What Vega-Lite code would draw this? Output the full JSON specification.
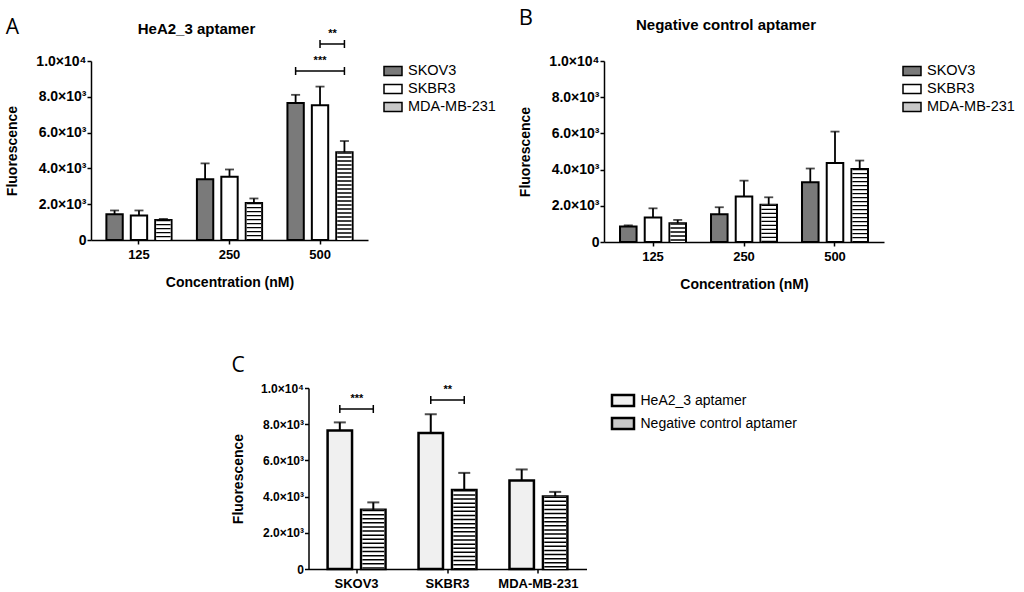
{
  "$schema": "https://vega.github.io/schema/vega-lite/v6.json",
  "background": "white",
  "padding": {"top": 7, "left": 5, "right": 5, "bottom": 5},
  "config": {
    "view": {"stroke": null},
    "font": "Liberation Sans",
    "title": {"offset": 0},
    "axis": {"domainColor": "black", "domainWidth": 1.5, "tickColor": "black", "tickWidth": 1.5, "tickSize": 4, "labelColor": "black", "labelFont": "Liberation Sans", "labelFontWeight": "bold", "titleFont": "Liberation Sans", "titleFontWeight": "bold", "titleColor": "black", "grid": false, "labelOverlap": false},
    "legend": {"labelFont": "Liberation Sans", "labelFontSize": 14.5, "labelColor": "black", "labelLimit": 400, "symbolStrokeColor": "black", "symbolStrokeWidth": 1.5, "symbolType": "M-1,-0.5H1V0.5H-1Z", "symbolSize": 324, "rowPadding": 0, "labelOffset": 5}
  },
  "datasets": {
    "A": [
      {"conc": "125", "line": "SKOV3", "mean": 1440, "err": 1650},
      {"conc": "125", "line": "SKBR3", "mean": 1370, "err": 1650},
      {"conc": "125", "line": "MDA-MB-231", "mean": 1120, "err": 1180},
      {"conc": "250", "line": "SKOV3", "mean": 3400, "err": 4280},
      {"conc": "250", "line": "SKBR3", "mean": 3530, "err": 3940},
      {"conc": "250", "line": "MDA-MB-231", "mean": 2070, "err": 2320},
      {"conc": "500", "line": "SKOV3", "mean": 7660, "err": 8110},
      {"conc": "500", "line": "SKBR3", "mean": 7530, "err": 8570},
      {"conc": "500", "line": "MDA-MB-231", "mean": 4900, "err": 5530}
    ],
    "B": [
      {"conc": "125", "line": "SKOV3", "mean": 860, "err": 920},
      {"conc": "125", "line": "SKBR3", "mean": 1350, "err": 1860},
      {"conc": "125", "line": "MDA-MB-231", "mean": 1030, "err": 1220},
      {"conc": "250", "line": "SKOV3", "mean": 1530, "err": 1920},
      {"conc": "250", "line": "SKBR3", "mean": 2520, "err": 3390},
      {"conc": "250", "line": "MDA-MB-231", "mean": 2060, "err": 2470},
      {"conc": "500", "line": "SKOV3", "mean": 3300, "err": 4060},
      {"conc": "500", "line": "SKBR3", "mean": 4370, "err": 6100},
      {"conc": "500", "line": "MDA-MB-231", "mean": 4040, "err": 4500}
    ],
    "C": [
      {"cell": "SKOV3", "apt": "HeA2_3 aptamer", "mean": 7650, "err": 8100},
      {"cell": "SKOV3", "apt": "Negative control aptamer", "mean": 3270, "err": 3680},
      {"cell": "SKBR3", "apt": "HeA2_3 aptamer", "mean": 7520, "err": 8550},
      {"cell": "SKBR3", "apt": "Negative control aptamer", "mean": 4360, "err": 5310},
      {"cell": "MDA-MB-231", "apt": "HeA2_3 aptamer", "mean": 4890, "err": 5500},
      {"cell": "MDA-MB-231", "apt": "Negative control aptamer", "mean": 4010, "err": 4260}
    ],
    "bracketsA": [
      {"id": "b1", "conc": "500", "line": "SKOV3", "level": 9440},
      {"id": "b1", "conc": "500", "line": "MDA-MB-231", "level": 9440},
      {"id": "b2", "conc": "500", "line": "SKBR3", "level": 10950},
      {"id": "b2", "conc": "500", "line": "MDA-MB-231", "level": 10950}
    ],
    "starsA": [
      {"conc": "500", "line": "SKBR3", "level": 9440, "label": "***"},
      {"conc": "500", "line": "MDA-MB-231", "level": 10950, "label": "**"}
    ],
    "bracketsC": [
      {"id": "c1", "cell": "SKOV3", "apt": "HeA2_3 aptamer", "level": 8840},
      {"id": "c1", "cell": "SKOV3", "apt": "Negative control aptamer", "level": 8840},
      {"id": "c2", "cell": "SKBR3", "apt": "HeA2_3 aptamer", "level": 9340},
      {"id": "c2", "cell": "SKBR3", "apt": "Negative control aptamer", "level": 9340}
    ],
    "starsC": [
      {"cell": "SKOV3", "apt": "HeA2_3 aptamer", "level": 8840, "label": "***"},
      {"cell": "SKBR3", "apt": "HeA2_3 aptamer", "level": 9340, "label": "**"}
    ]
  },
  "resolve": {"scale": {"x": "independent", "y": "independent", "xOffset": "independent", "color": "independent"}, "legend": {"color": "independent"}, "axis": {"x": "independent", "y": "independent"}},
  "vconcat": [
    {
      "resolve": {"scale": {"x": "independent", "y": "independent", "xOffset": "independent", "color": "independent"}, "legend": {"color": "independent"}, "axis": {"x": "independent", "y": "independent"}},
      "hconcat": [
        {
          "title": {"text": "A", "anchor": "start", "fontSize": 21, "font": "Open Sans", "fontWeight": "normal", "color": "black", "dy": 20},
          "vconcat": [
            {
              "width": 277,
              "height": 179,
              "title": {"text": "HeA2_3 aptamer", "fontSize": 15, "fontWeight": "bold", "font": "Liberation Sans", "color": "black", "frame": "group", "anchor": "middle", "dx": -33, "offset": -9},
              "layer": [
                {
                  "data": {"name": "A"},
                  "mark": {"type": "bar", "stroke": "black", "strokeWidth": 2},
                  "encoding": {
                    "x": {"field": "conc", "type": "nominal", "scale": {"paddingInner": 0.28, "paddingOuter": 0.17}, "axis": {"title": "Concentration (nM)", "labelAngle": 0, "labelFontSize": 13, "titleFontSize": 14, "labelPadding": 4, "titlePadding": 14}},
                    "xOffset": {"field": "line", "type": "nominal", "scale": {"domain": ["SKOV3", "SKBR3", "MDA-MB-231"], "paddingInner": 0.33, "paddingOuter": 0}},
                    "y": {"field": "mean", "type": "quantitative", "scale": {"domain": [0, 10000], "nice": false}, "axis": {"title": "Fluorescence", "values": [0, 2000, 4000, 6000, 8000, 10000], "tickCount": 10, "labelOverlap": false, "labelFontSize": 14, "titleFontSize": 14, "titlePadding": 16, "labelPadding": 1, "labelExpr": "datum.value == 0 ? '0' : datum.value == 10000 ? '1.0×10⁴' : format(datum.value/1000, '.1f') + '×10³'"}},
                    "color": {"field": "line", "type": "nominal", "scale": {"domain": ["SKOV3", "SKBR3", "MDA-MB-231"], "range": ["#7a7a7a", "#ffffff", "#c8c8c8"]}, "legend": {"title": null, "offset": 15, "encode": {"symbols": {"update": {"stroke": {"value": "black"}, "strokeWidth": {"value": 1.5}, "fill": [{"test": "datum.value === 'MDA-MB-231'", "value": {"gradient": "linear", "x1": 0, "y1": 0, "x2": 0, "y2": 1, "stops": [{"offset": 0, "color": "white"}, {"offset": 0.18, "color": "white"}, {"offset": 0.18, "color": "black"}, {"offset": 0.3, "color": "black"}, {"offset": 0.3, "color": "white"}, {"offset": 0.44, "color": "white"}, {"offset": 0.44, "color": "black"}, {"offset": 0.56, "color": "black"}, {"offset": 0.56, "color": "white"}, {"offset": 0.7, "color": "white"}, {"offset": 0.7, "color": "black"}, {"offset": 0.82, "color": "black"}, {"offset": 0.82, "color": "white"}, {"offset": 1, "color": "white"}]}}, {"test": "datum.value === 'SKOV3'", "value": "#7a7a7a"}, {"value": "white"}]}}}}}
                  }
                },
                {
                  "data": {"name": "A"},
                  "transform": [{"filter": "datum.line == 'MDA-MB-231'"}],
                  "mark": {"type": "rule", "color": "white", "strokeWidth": 14.4, "strokeCap": "butt"},
                  "encoding": {
                    "x": {"field": "conc", "type": "nominal"},
                    "xOffset": {"field": "line", "type": "nominal"},
                    "y": {"field": "mean", "type": "quantitative"},
                    "y2": {"datum": 0}
                  }
                },
                {
                  "data": {"name": "A"},
                  "transform": [{"filter": "datum.line == 'MDA-MB-231'"}],
                  "mark": {"type": "rule", "color": "black", "strokeWidth": 14.4, "strokeCap": "butt", "strokeDash": [1.4, 2.6]},
                  "encoding": {
                    "x": {"field": "conc", "type": "nominal"},
                    "xOffset": {"field": "line", "type": "nominal"},
                    "y": {"field": "mean", "type": "quantitative"},
                    "y2": {"datum": 0}
                  }
                },
                {
                  "data": {"name": "A"},
                  "mark": {"type": "rule", "color": "black", "strokeWidth": 1.8},
                  "encoding": {
                    "x": {"field": "conc", "type": "nominal"},
                    "xOffset": {"field": "line", "type": "nominal"},
                    "y": {"field": "mean", "type": "quantitative"},
                    "y2": {"field": "err"}
                  }
                },
                {
                  "data": {"name": "A"},
                  "mark": {"type": "tick", "color": "black", "thickness": 1.8, "size": 9, "orient": "horizontal"},
                  "encoding": {
                    "x": {"field": "conc", "type": "nominal"},
                    "xOffset": {"field": "line", "type": "nominal"},
                    "y": {"field": "err", "type": "quantitative"}
                  }
                },
                {
                  "data": {"name": "bracketsA"},
                  "mark": {"type": "line", "color": "black", "strokeWidth": 1.5},
                  "encoding": {
                    "x": {"field": "conc", "type": "nominal"},
                    "xOffset": {"field": "line", "type": "nominal"},
                    "y": {"field": "level", "type": "quantitative"},
                    "detail": {"field": "id"}
                  }
                },
                {
                  "data": {"name": "bracketsA"},
                  "mark": {"type": "point", "shape": "M0,-1L0,1", "size": 64, "filled": false, "stroke": "black", "strokeWidth": 1.5, "opacity": 1},
                  "encoding": {
                    "x": {"field": "conc", "type": "nominal"},
                    "xOffset": {"field": "line", "type": "nominal"},
                    "y": {"field": "level", "type": "quantitative"}
                  }
                },
                {
                  "data": {"name": "starsA"},
                  "transform": [{"filter": "datum.label == '***'"}],
                  "mark": {"type": "text", "fontSize": 11, "fontWeight": "bold", "color": "black", "dy": -5, "baseline": "bottom"},
                  "encoding": {
                    "x": {"field": "conc", "type": "nominal"},
                    "xOffset": {"field": "line", "type": "nominal"},
                    "y": {"field": "level", "type": "quantitative"},
                    "text": {"field": "label"}
                  }
                },
                {
                  "data": {"name": "starsA"},
                  "transform": [{"filter": "datum.label == '**'"}],
                  "mark": {"type": "text", "fontSize": 11, "fontWeight": "bold", "color": "black", "dy": -5, "dx": -12, "baseline": "bottom"},
                  "encoding": {
                    "x": {"field": "conc", "type": "nominal"},
                    "xOffset": {"field": "line", "type": "nominal"},
                    "y": {"field": "level", "type": "quantitative"},
                    "text": {"field": "label"}
                  }
                }
              ]
            }
          ]
        },
        {
          "title": {"text": "B", "anchor": "start", "fontSize": 22, "font": "Open Sans", "fontWeight": "normal", "color": "black", "dy": 16},
          "vconcat": [
            {
              "width": 280,
              "height": 181,
              "title": {"text": "Negative control aptamer", "fontSize": 15, "fontWeight": "bold", "font": "Liberation Sans", "color": "black", "frame": "group", "anchor": "middle", "dx": -18, "offset": 21},
              "layer": [
                {
                  "data": {"name": "B"},
                  "mark": {"type": "bar", "stroke": "black", "strokeWidth": 2},
                  "encoding": {
                    "x": {"field": "conc", "type": "nominal", "scale": {"paddingInner": 0.275, "paddingOuter": 0.176}, "axis": {"title": "Concentration (nM)", "labelAngle": 0, "labelFontSize": 13, "titleFontSize": 14, "labelPadding": 4, "titlePadding": 14}},
                    "xOffset": {"field": "line", "type": "nominal", "scale": {"domain": ["SKOV3", "SKBR3", "MDA-MB-231"], "paddingInner": 0.33, "paddingOuter": 0}},
                    "y": {"field": "mean", "type": "quantitative", "scale": {"domain": [0, 10000], "nice": false}, "axis": {"title": "Fluorescence", "values": [0, 2000, 4000, 6000, 8000, 10000], "tickCount": 10, "labelOverlap": false, "labelFontSize": 14, "titleFontSize": 14, "titlePadding": 16, "labelPadding": 1, "labelExpr": "datum.value == 0 ? '0' : datum.value == 10000 ? '1.0×10⁴' : format(datum.value/1000, '.1f') + '×10³'"}},
                    "color": {"field": "line", "type": "nominal", "scale": {"domain": ["SKOV3", "SKBR3", "MDA-MB-231"], "range": ["#7a7a7a", "#ffffff", "#c8c8c8"]}, "legend": {"title": null, "offset": 18, "encode": {"symbols": {"update": {"stroke": {"value": "black"}, "strokeWidth": {"value": 1.5}, "fill": [{"test": "datum.value === 'MDA-MB-231'", "value": {"gradient": "linear", "x1": 0, "y1": 0, "x2": 0, "y2": 1, "stops": [{"offset": 0, "color": "white"}, {"offset": 0.18, "color": "white"}, {"offset": 0.18, "color": "black"}, {"offset": 0.3, "color": "black"}, {"offset": 0.3, "color": "white"}, {"offset": 0.44, "color": "white"}, {"offset": 0.44, "color": "black"}, {"offset": 0.56, "color": "black"}, {"offset": 0.56, "color": "white"}, {"offset": 0.7, "color": "white"}, {"offset": 0.7, "color": "black"}, {"offset": 0.82, "color": "black"}, {"offset": 0.82, "color": "white"}, {"offset": 1, "color": "white"}]}}, {"test": "datum.value === 'SKOV3'", "value": "#7a7a7a"}, {"value": "white"}]}}}}}
                  }
                },
                {
                  "data": {"name": "B"},
                  "transform": [{"filter": "datum.line == 'MDA-MB-231'"}],
                  "mark": {"type": "rule", "color": "white", "strokeWidth": 14.6, "strokeCap": "butt"},
                  "encoding": {
                    "x": {"field": "conc", "type": "nominal"},
                    "xOffset": {"field": "line", "type": "nominal"},
                    "y": {"field": "mean", "type": "quantitative"},
                    "y2": {"datum": 0}
                  }
                },
                {
                  "data": {"name": "B"},
                  "transform": [{"filter": "datum.line == 'MDA-MB-231'"}],
                  "mark": {"type": "rule", "color": "black", "strokeWidth": 14.6, "strokeCap": "butt", "strokeDash": [1.4, 2.6]},
                  "encoding": {
                    "x": {"field": "conc", "type": "nominal"},
                    "xOffset": {"field": "line", "type": "nominal"},
                    "y": {"field": "mean", "type": "quantitative"},
                    "y2": {"datum": 0}
                  }
                },
                {
                  "data": {"name": "B"},
                  "mark": {"type": "rule", "color": "black", "strokeWidth": 1.8},
                  "encoding": {
                    "x": {"field": "conc", "type": "nominal"},
                    "xOffset": {"field": "line", "type": "nominal"},
                    "y": {"field": "mean", "type": "quantitative"},
                    "y2": {"field": "err"}
                  }
                },
                {
                  "data": {"name": "B"},
                  "mark": {"type": "tick", "color": "black", "thickness": 1.8, "size": 9, "orient": "horizontal"},
                  "encoding": {
                    "x": {"field": "conc", "type": "nominal"},
                    "xOffset": {"field": "line", "type": "nominal"},
                    "y": {"field": "err", "type": "quantitative"}
                  }
                }
              ]
            }
          ]
        }
      ],
      "spacing": 22
    },
    {
      "title": {"text": "C", "anchor": "start", "fontSize": 21, "font": "Open Sans", "fontWeight": "normal", "color": "black", "offset": 6},
      "vconcat": [
        {
          "width": 278,
          "height": 181,
          "layer": [
            {
              "data": {"name": "C"},
              "mark": {"type": "bar", "stroke": "black", "strokeWidth": 2.5},
              "encoding": {
                "x": {"field": "cell", "type": "nominal", "scale": {"domain": ["SKOV3", "SKBR3", "MDA-MB-231"], "paddingInner": 0.363, "paddingOuter": 0.21}, "axis": {"title": null, "labelAngle": 0, "labelFontSize": 13, "labelPadding": 4}},
                "xOffset": {"field": "apt", "type": "nominal", "scale": {"domain": ["HeA2_3 aptamer", "Negative control aptamer"], "paddingInner": 0.27, "paddingOuter": 0}},
                "y": {"field": "mean", "type": "quantitative", "scale": {"domain": [0, 10000], "nice": false}, "axis": {"title": "Fluorescence", "values": [0, 2000, 4000, 6000, 8000, 10000], "tickCount": 10, "labelOverlap": false, "labelFontSize": 12, "titleFontSize": 14, "titlePadding": 15, "labelPadding": 1, "labelExpr": "datum.value == 0 ? '0' : datum.value == 10000 ? '1.0×10⁴' : format(datum.value/1000, '.1f') + '×10³'"}},
                "color": {"field": "apt", "type": "nominal", "scale": {"domain": ["HeA2_3 aptamer", "Negative control aptamer"], "range": ["#f0f0f0", "#c8c8c8"]}, "legend": {"title": null, "offset": 24, "symbolSize": 484, "symbolStrokeWidth": 2.5, "labelFontSize": 14, "encode": {"symbols": {"update": {"stroke": {"value": "black"}, "strokeWidth": {"value": 2.5}, "fill": [{"test": "datum.value === 'Negative control aptamer'", "value": {"gradient": "linear", "x1": 0, "y1": 0, "x2": 0, "y2": 1, "stops": [{"offset": 0, "color": "white"}, {"offset": 0.18, "color": "white"}, {"offset": 0.18, "color": "black"}, {"offset": 0.3, "color": "black"}, {"offset": 0.3, "color": "white"}, {"offset": 0.44, "color": "white"}, {"offset": 0.44, "color": "black"}, {"offset": 0.56, "color": "black"}, {"offset": 0.56, "color": "white"}, {"offset": 0.7, "color": "white"}, {"offset": 0.7, "color": "black"}, {"offset": 0.82, "color": "black"}, {"offset": 0.82, "color": "white"}, {"offset": 1, "color": "white"}]}}, {"value": "#f0f0f0"}]}}}}}
              }
            },
            {
              "data": {"name": "C"},
              "transform": [{"filter": "datum.apt == 'Negative control aptamer'"}],
              "mark": {"type": "rule", "color": "white", "strokeWidth": 21.8, "strokeCap": "butt"},
              "encoding": {
                "x": {"field": "cell", "type": "nominal"},
                "xOffset": {"field": "apt", "type": "nominal"},
                "y": {"field": "mean", "type": "quantitative"},
                "y2": {"datum": 0}
              }
            },
            {
              "data": {"name": "C"},
              "transform": [{"filter": "datum.apt == 'Negative control aptamer'"}],
              "mark": {"type": "rule", "color": "black", "strokeWidth": 21.8, "strokeCap": "butt", "strokeDash": [1.5, 2.6]},
              "encoding": {
                "x": {"field": "cell", "type": "nominal"},
                "xOffset": {"field": "apt", "type": "nominal"},
                "y": {"field": "mean", "type": "quantitative"},
                "y2": {"datum": 0}
              }
            },
            {
              "data": {"name": "C"},
              "mark": {"type": "rule", "color": "black", "strokeWidth": 2},
              "encoding": {
                "x": {"field": "cell", "type": "nominal"},
                "xOffset": {"field": "apt", "type": "nominal"},
                "y": {"field": "mean", "type": "quantitative"},
                "y2": {"field": "err"}
              }
            },
            {
              "data": {"name": "C"},
              "mark": {"type": "tick", "color": "black", "thickness": 2, "size": 12, "orient": "horizontal"},
              "encoding": {
                "x": {"field": "cell", "type": "nominal"},
                "xOffset": {"field": "apt", "type": "nominal"},
                "y": {"field": "err", "type": "quantitative"}
              }
            },
            {
              "data": {"name": "bracketsC"},
              "mark": {"type": "line", "color": "black", "strokeWidth": 1.5},
              "encoding": {
                "x": {"field": "cell", "type": "nominal"},
                "xOffset": {"field": "apt", "type": "nominal"},
                "y": {"field": "level", "type": "quantitative"},
                "detail": {"field": "id"}
              }
            },
            {
              "data": {"name": "bracketsC"},
              "mark": {"type": "point", "shape": "M0,-1L0,1", "size": 64, "filled": false, "stroke": "black", "strokeWidth": 1.5, "opacity": 1},
              "encoding": {
                "x": {"field": "cell", "type": "nominal"},
                "xOffset": {"field": "apt", "type": "nominal"},
                "y": {"field": "level", "type": "quantitative"}
              }
            },
            {
              "data": {"name": "starsC"},
              "mark": {"type": "text", "fontSize": 11, "fontWeight": "bold", "color": "black", "dy": -5, "dx": 17, "baseline": "bottom"},
              "encoding": {
                "x": {"field": "cell", "type": "nominal"},
                "xOffset": {"field": "apt", "type": "nominal"},
                "y": {"field": "level", "type": "quantitative"},
                "text": {"field": "label"}
              }
            }
          ]
        }
      ]
    }
  ],
  "center": true,
  "spacing": 64
}
